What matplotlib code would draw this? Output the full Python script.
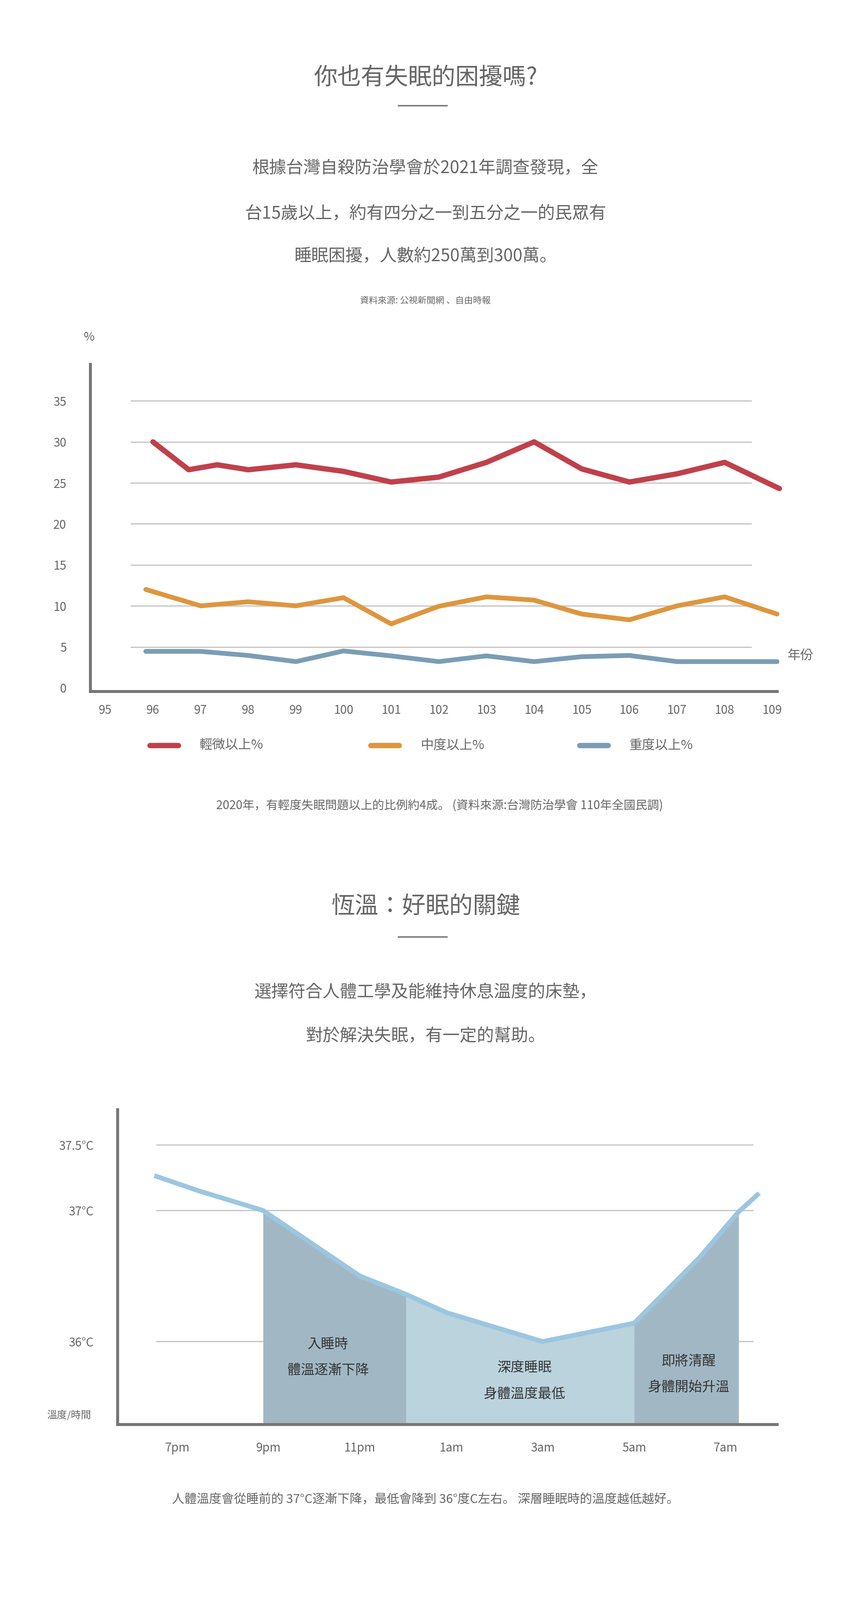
import numpy as np
import matplotlib.pyplot as plt

plt.rcParams['font.family'] = ['Noto Sans CJK TC', 'Noto Sans CJK JP', 'Noto Sans CJK SC', 'DejaVu Sans']

# chart 1 data (民國年)
red_x = [96, 96.75, 97.35, 98, 99, 100, 101, 102, 103, 104, 105, 106, 107, 108, 109.15]
red_y = [30, 26.6, 27.2, 26.6, 27.2, 26.4, 25.1, 25.7, 27.5, 30, 26.7, 25.1, 26.1, 27.5, 24.3]
org_x = [95.85, 97, 98, 99, 100, 101, 102, 103, 104, 105, 106, 107, 108, 109.1]
org_y = [12.0, 10.0, 10.5, 10.0, 11.0, 7.8, 9.95, 11.1, 10.7, 9.0, 8.3, 10.0, 11.1, 9.0]
blu_x = [95.85, 97, 98, 99, 100, 101, 102, 103, 104, 105, 106, 107, 108, 109.1]
blu_y = [4.45, 4.45, 3.95, 3.2, 4.5, 3.9, 3.2, 3.9, 3.2, 3.8, 3.95, 3.2, 3.2, 3.2]
years = list(range(95, 110))
pct_ticks = [0, 5, 10, 15, 20, 25, 30, 35]
legend_names = ['輕微以上%', '中度以上%', '重度以上%']

# chart 2 data (hours after 7pm)
temp_h = [-0.45, 0.47, 1.88, 4.0, 5.01, 5.9, 8.0, 10.0, 11.43, 12.29, 12.7]
temp_c = [37.26, 37.15, 37.0, 36.50, 36.36, 36.22, 36.0, 36.14, 36.64, 36.99, 37.12]
time_labels = ['7pm', '9pm', '11pm', '1am', '3am', '5am', '7am']
temp_ticks = [36, 37, 37.5]
temp_tick_labels = ['36°C', '37°C', '37.5°C']

W, H = 840, 1580
GREY = '#666666'
fig = plt.figure(figsize=(20, 37.61), dpi=100)


def t(x, y, s, size, color=GREY, ha='center', **kw):
    fig.text(x / W, 1 - y / H, s, fontsize=size, color=color, ha=ha, va='center', **kw)


def hline(x0, x1, y, lw=2.5):
    fig.add_artist(plt.Line2D([x0 / W, x1 / W], [1 - y / H, 1 - y / H], color='#777777', lw=lw))


# ---- section 1 text
t(420, 77, '你也有失眠的困擾嗎?', 40)
hline(393, 441, 104)
t(420, 166, '根據台灣自殺防治學會於2021年調查發現，全', 29)
t(420, 211, '台15歲以上，約有四分之一到五分之一的民眾有', 29)
t(420, 253, '睡眠困擾，人數約250萬到300萬。', 29)
t(420, 297, '資料來源: 公視新聞網 、自由時報', 15)
t(88, 333, '%', 20)
t(434, 796, '2020年，有輕度失眠問題以上的比例約4成。 (資料來源:台灣防治學會 110年全國民調)', 20)

# ---- chart 1
l, r, top, b = 88.9, 767, 359.4, 682.5
ax = fig.add_axes([l / W, 1 - b / H, (r - l) / W, (b - top) / H])
ax.set_xlim(94.68, 109.1)
ax.set_ylim(-0.4, 39.5)
for v in pct_ticks[1:]:
    ax.plot([95.54, 108.55], [v, v], color='#c4c4c4', lw=2, zorder=1)
ax.plot(red_x, red_y, color='#c0404a', lw=9, solid_capstyle='round', clip_on=False)
ax.plot(org_x, org_y, color='#de963e', lw=8, solid_capstyle='round', clip_on=False)
ax.plot(blu_x, blu_y, color='#7b9db4', lw=8, solid_capstyle='round', clip_on=False)
for s in ['top', 'right']:
    ax.spines[s].set_visible(False)
for s in ['left', 'bottom']:
    ax.spines[s].set_color('#777777')
    ax.spines[s].set_linewidth(5)
ax.set_xticks(years)
ax.set_xticklabels([str(y) for y in years])
ax.set_yticks(pct_ticks)
ax.tick_params(length=0, labelsize=20, colors=GREY, pad=22)
ax.tick_params(axis='y', pad=40)
t(790, 648, '年份', 22)

leg_cols = ['#c0404a', '#de963e', '#7b9db4']
leg_x = [148, 366, 572]
for c, x, name in zip(leg_cols, leg_x, legend_names):
    fig.add_artist(plt.Line2D([x / W, (x + 28) / W], [1 - 736 / H] * 2, color=c, lw=9,
                              solid_capstyle='round'))
    t(x + 49, 736, name, 22, ha='left')

# ---- section 2 text
t(420, 895, '恆溫：好眠的關鍵', 40)
hline(393, 441, 925)
t(420, 980, '選擇符合人體工學及能維持休息溫度的床墊，', 29)
t(420, 1023, '對於解決失眠，有一定的幫助。', 29)
t(68, 1398, '溫度/時間', 17)
t(420, 1481, '人體溫度會從睡前的 37°C逐漸下降，最低會降到 36°度C左右。 深層睡眠時的溫度越低越好。', 21)

# ---- chart 2
l, r, top, b = 115.8, 767, 1095.7, 1406.3
ax2 = fig.add_axes([l / W, 1 - b / H, (r - l) / W, (b - top) / H])
ax2.set_xlim(-1.31, 13.13)
ax2.set_ylim(35.37, 37.77)
for v in temp_ticks:
    ax2.plot([-0.45, 12.6], [v, v], color='#c4c4c4', lw=2, zorder=1)


def seg(x0, x1):
    xs = [x0] + [h for h in temp_h if x0 < h < x1] + [x1]
    ys = np.interp(xs, temp_h, temp_c)
    return xs, ys


for x0, x1, c in [(1.88, 5.01, '#a1b8c4'), (5.01, 10.0, '#bad3dd'), (10.0, 12.29, '#a1b8c4')]:
    xs, ys = seg(x0, x1)
    ax2.fill_between(xs, 35.37, ys, color=c, lw=0, zorder=2)
ax2.plot(temp_h, temp_c, color='#9cc6e0', lw=8, zorder=3, clip_on=False)
labels2 = [(3.3, 35.98, '入睡時'), (3.3, 35.78, '體溫逐漸下降'),
           (7.6, 35.80, '深度睡眠'), (7.6, 35.60, '身體溫度最低'),
           (11.2, 35.85, '即將清醒'), (11.2, 35.65, '身體開始升溫')]
for x, y, s in labels2:
    ax2.text(x, y, s, fontsize=23, color='#333333', ha='center', va='center', zorder=4)
for s in ['top', 'right']:
    ax2.spines[s].set_visible(False)
for s in ['left', 'bottom']:
    ax2.spines[s].set_color('#777777')
    ax2.spines[s].set_linewidth(5)
ax2.set_xticks([0, 2, 4, 6, 8, 10, 12])
ax2.set_xticklabels(time_labels)
ax2.set_yticks(temp_ticks)
ax2.set_yticklabels(temp_tick_labels)
ax2.tick_params(length=0, labelsize=20, colors=GREY, pad=30)
ax2.tick_params(axis='y', pad=40)

fig.savefig('out.png', dpi=100)
